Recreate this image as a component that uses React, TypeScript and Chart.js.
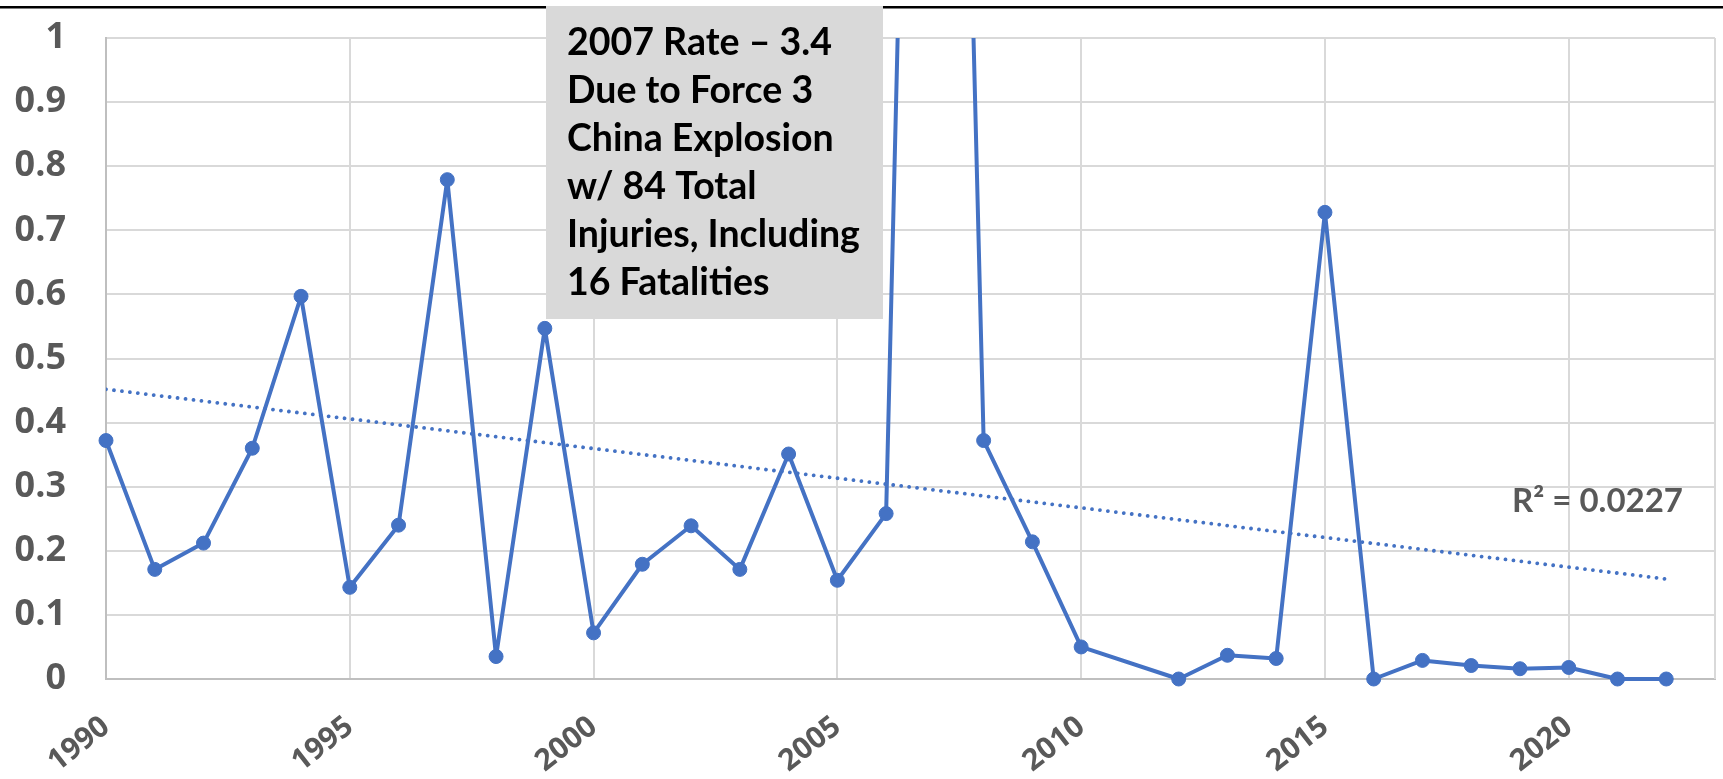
import React, { useEffect, useRef } from 'react';
import { Chart, registerables } from 'chart.js';

Chart.register(...registerables);

// ---- data ----
const years = [
  1990, 1991, 1992, 1993, 1994, 1995, 1996, 1997, 1998, 1999,
  2000, 2001, 2002, 2003, 2004, 2005, 2006, 2007, 2008, 2009,
  2010, 2012, 2013, 2014, 2015, 2016, 2017, 2018, 2019, 2020,
  2021, 2022,
];
const rates = [
  0.372, 0.171, 0.212, 0.36, 0.597, 0.143, 0.24, 0.779, 0.035, 0.547,
  0.072, 0.179, 0.239, 0.171, 0.351, 0.154, 0.258, 3.4, 0.372, 0.214,
  0.05, 0.0, 0.037, 0.032, 0.728, 0.0, 0.029, 0.021, 0.016, 0.018,
  0.0, 0.0,
];
const trendYears = [1990, 2022];
const trendRates = [0.452, 0.156];
const xTickValues = [1990, 1995, 2000, 2005, 2010, 2015, 2020];
const xAxisMin = 1990;
const xAxisMax = 2023;
const yAxisMin = 0;
const yAxisMax = 1;
const yStep = 0.1;
const annotationLines = [
  '2007 Rate \u2013 3.4',
  'Due to Force 3',
  'China Explosion',
  'w/ 84 Total',
  'Injuries, Including',
  '16 Fatalities',
];
const rSquaredText = 'R\u00B2 = 0.0227';

const BLUE = '#4472C4';
const GRAY_TEXT = '#595959';
const GRID = '#d9d9d9';
const AXIS = '#bfbfbf';
const TEXT_FONT = 'Lato';
const TICK_FONT = '"Open Sans"';

const overlayPlugin = {
  id: 'overlay',
  beforeDatasetsDraw(chart: any) {
    const ctx = chart.ctx as CanvasRenderingContext2D;
    const a = chart.chartArea;
    ctx.save();
    ctx.strokeStyle = GRID;
    ctx.lineWidth = 2;
    ctx.beginPath();
    ctx.moveTo(a.right, a.top);
    ctx.lineTo(a.right, a.bottom);
    ctx.stroke();
    ctx.restore();
  },
  afterDraw(chart: any) {
    const ctx = chart.ctx as CanvasRenderingContext2D;
    ctx.save();
    // top rule
    ctx.fillStyle = '#000000';
    ctx.fillRect(0, 6, chart.width, 2.5);
    // annotation box
    ctx.fillStyle = '#d9d9d9';
    ctx.fillRect(546, 6, 337, 313);
    ctx.fillStyle = '#000000';
    ctx.font = `bold 37.5px ${TEXT_FONT}`;
    ctx.textAlign = 'left';
    ctx.textBaseline = 'alphabetic';
    annotationLines.forEach((line, i) => {
      ctx.fillText(line, 567, 55 + i * 48);
    });
    // R squared label
    ctx.fillStyle = GRAY_TEXT;
    ctx.font = `bold 33px ${TEXT_FONT}`;
    ctx.textBaseline = 'middle';
    ctx.fillText(rSquaredText, 1512, 501);
    ctx.restore();
  },
};

export default function App() {
  const canvasRef = useRef<HTMLCanvasElement | null>(null);

  useEffect(() => {
    const canvas = canvasRef.current;
    if (!canvas) return;
    const chart = new Chart(canvas, {
      type: 'line',
      data: {
        datasets: [
          {
            label: 'Rate',
            data: years.map((y, i) => ({ x: y, y: rates[i] })),
            borderColor: BLUE,
            backgroundColor: BLUE,
            borderWidth: 4,
            borderJoinStyle: 'round',
            borderCapStyle: 'round',
            pointRadius: 7,
            pointBorderWidth: 1,
            pointBackgroundColor: BLUE,
            pointBorderColor: BLUE,
            tension: 0,
            clip: { left: 12, right: 12, bottom: 12, top: 0 } as any,
            order: 1,
          },
          {
            label: 'Trend',
            data: trendYears.map((y, i) => ({ x: y, y: trendRates[i] })),
            borderColor: BLUE,
            borderWidth: 3.8,
            borderDash: [0.01, 8],
            borderCapStyle: 'round',
            pointRadius: 0,
            tension: 0,
            order: 2,
          },
        ],
      },
      options: {
        responsive: false,
        animation: false,
        devicePixelRatio: 1,
        layout: { padding: { top: 38, right: 5, left: 0, bottom: 0 } },
        plugins: {
          legend: { display: false },
          tooltip: { enabled: false },
        },
        scales: {
          x: {
            type: 'linear',
            min: xAxisMin,
            max: xAxisMax,
            afterBuildTicks: (scale: any) => {
              scale.ticks = xTickValues.map((v) => ({ value: v }));
            },
            afterFit: (scale: any) => {
              scale.height = 100;
            },
            ticks: {
              autoSkip: false,
              minRotation: 38,
              maxRotation: 38,
              padding: 30,
              color: GRAY_TEXT,
              font: { family: TICK_FONT, weight: 'bold', size: 30 },
              callback: (v: any) => String(v),
            },
            grid: { color: GRID, lineWidth: 2, drawTicks: false },
            border: { color: AXIS, width: 2 },
          },
          y: {
            min: yAxisMin,
            max: yAxisMax,
            afterFit: (scale: any) => {
              scale.width = 106;
              scale.paddingTop = 0;
              scale.paddingBottom = 0;
            },
            ticks: {
              stepSize: yStep,
              padding: 40,
              color: GRAY_TEXT,
              font: { family: TICK_FONT, weight: 'bold', size: 36 },
              callback: (v: any) => String(Math.round(Number(v) * 10) / 10),
            },
            grid: { color: GRID, lineWidth: 2, drawTicks: false },
            border: { color: AXIS, width: 2 },
          },
        },
      },
      plugins: [overlayPlugin],
    } as any);
    return () => chart.destroy();
  }, []);

  return (
    <div style={{ position: 'fixed', left: 0, top: 0, width: 1723, height: 779, background: '#ffffff' }}>
      <canvas ref={canvasRef} width={1723} height={779} />
    </div>
  );
}
